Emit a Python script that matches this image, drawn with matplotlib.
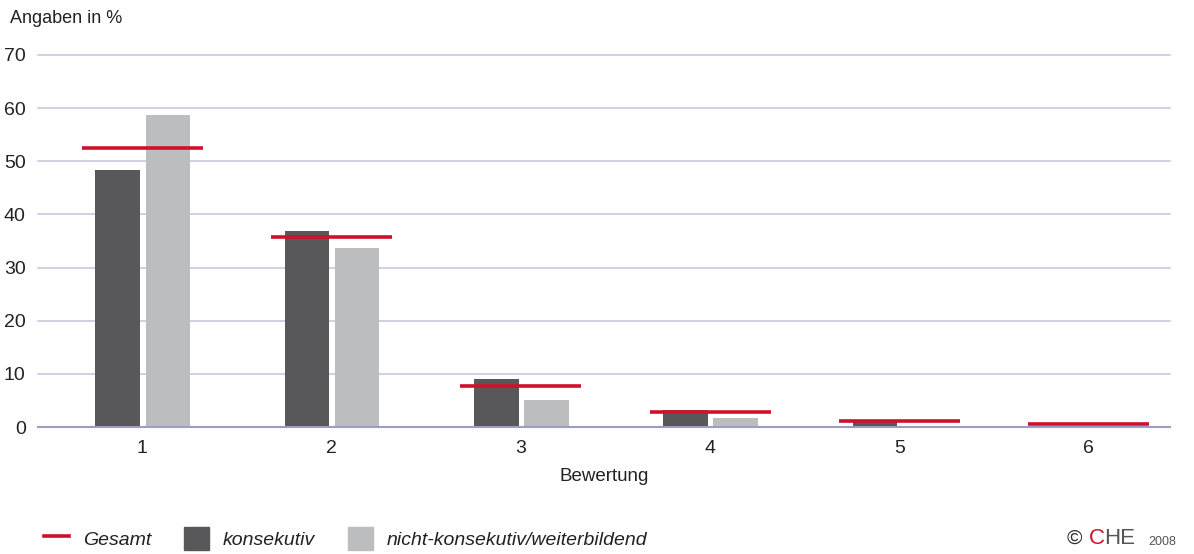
import matplotlib
matplotlib.use("Agg")
import matplotlib.pyplot as plt
import numpy as np
from matplotlib.lines import Line2D
from matplotlib.patches import Patch

plt.rcParams['font.family'] = ['Liberation Sans', 'DejaVu Sans']

# data
categories = ['1', '2', '3', '4', '5', '6']
konsekutiv = [48.4, 36.9, 9.0, 3.2, 1.3, 0.2]
nicht_konsekutiv = [58.6, 33.7, 5.1, 1.8, 0.3, 0.1]
gesamt = [52.4, 35.8, 7.7, 2.8, 1.1, 0.5]

dark = '#58585a'
light = '#bcbdbf'
red = '#d0112b'
grid_col = '#c8c9dc'
axis_col = '#9a9ec0'
txt = '#222222'

fig = plt.figure(figsize=(11.94, 5.54), dpi=100)
ax = fig.add_axes([0.032, 0.229, 0.948, 0.672])

x = np.arange(1, len(categories) + 1)
w = 0.235
ax.bar(x - 0.13, konsekutiv, width=w, color=dark, zorder=2)
ax.bar(x + 0.135, nicht_konsekutiv, width=w, color=light, zorder=2)
ax.hlines(gesamt, x - 0.32, x + 0.32, colors=red, linewidth=2.6, zorder=3)

ax.set_xlim(0.45, 6.43)
ax.set_ylim(0, 70)
ax.set_yticks(range(0, 71, 10))
ax.set_xticks(x)
ax.set_xticklabels(categories)
ax.yaxis.grid(True, color=grid_col, linewidth=1.2, zorder=0)
for gl in ax.get_ygridlines():
    gl.set_clip_on(False)
ax.set_axisbelow(True)
for s in ['top', 'right', 'left']:
    ax.spines[s].set_visible(False)
ax.spines['bottom'].set_color(axis_col)
ax.spines['bottom'].set_linewidth(1.5)
ax.tick_params(axis='both', length=0, labelsize=14, colors=txt)
ax.tick_params(axis='y', pad=9)
ax.tick_params(axis='x', pad=9)
ax.set_xlabel('Bewertung', fontsize=13.5, color=txt, labelpad=8)

fig.text(0.008, 0.967, 'Angaben in %', fontsize=13, color=txt, va='center')

handles = [Line2D([0], [0], color=red, linewidth=2.6),
           Patch(color=dark), Patch(color=light)]
labels = ['Gesamt', 'konsekutiv', 'nicht-konsekutiv/weiterbildend']
leg = fig.legend(handles, labels, loc='center left', bbox_to_anchor=(0.022, 0.028),
                 ncol=3, frameon=False, fontsize=14, handlelength=1.3,
                 handleheight=1.4, columnspacing=1.7, handletextpad=0.7)
for t in leg.get_texts():
    t.set_style('italic')
    t.set_color(txt)

fig.text(0.893, 0.028, '©', fontsize=15, color='#333333', va='center')
fig.text(0.912, 0.028, 'C', fontsize=16, color=red, va='center')
fig.text(0.925, 0.028, 'HE', fontsize=16, color='#555555', va='center')
fig.text(0.962, 0.022, '2008', fontsize=9, color='#555555', va='center')

fig.savefig('out.png', dpi=100)
